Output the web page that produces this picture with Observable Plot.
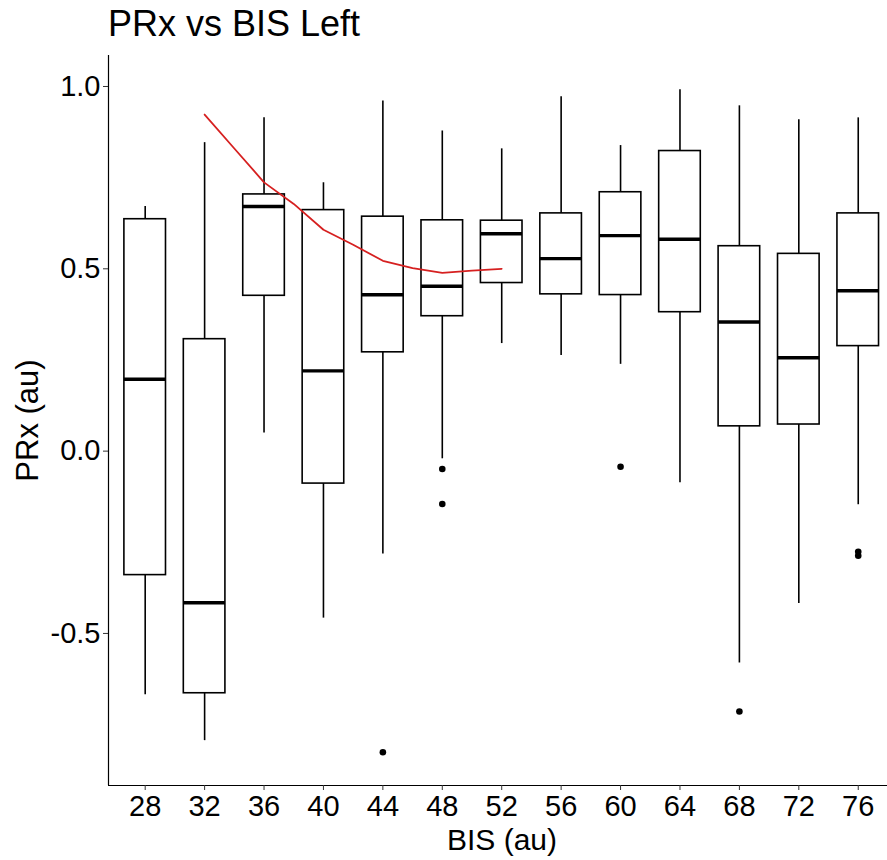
<!DOCTYPE html>
<html>
<head>
<meta charset="utf-8">
<script src="https://cdn.jsdelivr.net/npm/d3@7"></script>
<script src="https://cdn.jsdelivr.net/npm/@observablehq/plot@0.6"></script>
<style>
  html, body { margin: 0; padding: 0; background: #fff; }
  body { width: 887px; height: 860px; position: relative; overflow: hidden; font-family: "Liberation Sans", Arial, sans-serif; }
  #title { position: absolute; left: 108px; top: 6px; font-size: 36px; line-height: 1; color: #000; white-space: nowrap; }
  #chart { position: absolute; left: 0; top: 50px; }
</style>
</head>
<body>
<div id="title">PRx vs BIS Left</div>
<div id="chart"></div>
<script>
// BIS categories
const bis = [28, 32, 36, 40, 44, 48, 52, 56, 60, 64, 68, 72, 76];
// Box statistics (PRx, au)
const whiskerLow  = [-0.668, -0.794, 0.050, -0.458, -0.282, -0.021, 0.295, 0.262, 0.238, -0.087, -0.581, -0.418, -0.147];
const q1          = [-0.340, -0.664, 0.426, -0.089, 0.271, 0.370, 0.461, 0.430, 0.428, 0.381, 0.068, 0.073, 0.288];
const median      = [0.197, -0.416, 0.671, 0.220, 0.429, 0.452, 0.596, 0.528, 0.591, 0.581, 0.354, 0.256, 0.440];
const q3          = [0.636, 0.307, 0.704, 0.661, 0.643, 0.633, 0.632, 0.652, 0.710, 0.823, 0.562, 0.541, 0.652];
const whiskerHigh = [0.671, 0.846, 0.914, 0.736, 0.960, 0.878, 0.829, 0.972, 0.838, 0.991, 0.947, 0.909, 0.914];
// Outliers
const outlierBis = [44, 48, 48, 60, 68, 76, 76];
const outlierPrx = [-0.826, -0.049, -0.145, -0.043, -0.714, -0.276, -0.287];
// Smoothed trend (red)
const trendBis = [32, 34, 36, 38, 40, 42, 44, 46, 48, 50, 52];
const trendPrx = [0.923, 0.830, 0.737, 0.678, 0.607, 0.566, 0.522, 0.502, 0.489, 0.495, 0.500];
// Tick labels
const yTicks = [-0.5, 0, 0.5, 1.0];

const xDomain = [25.53, 77.97];
const yDomain = [-0.917, 1.085];
const boxHalf = 1.4;

const boxes = bis.map((b, i) => ({bis: b, lo: whiskerLow[i], q1: q1[i], med: median[i], q3: q3[i], hi: whiskerHigh[i]}));
const outliers = outlierBis.map((b, i) => ({bis: b, prx: outlierPrx[i]}));
const trend = trendBis.map((b, i) => ({bis: b, prx: trendPrx[i]}));

const FONT = "'Liberation Sans', Arial, sans-serif";

const chart = Plot.plot({
  width: 887,
  height: 810,
  marginLeft: 108,
  marginRight: 0,
  marginTop: 5,
  marginBottom: 75,
  style: {fontFamily: FONT, background: "#fff", color: "#000", overflow: "visible"},
  x: {type: "linear", domain: xDomain},
  y: {type: "linear", domain: yDomain},
  marks: [
    Plot.ruleX(boxes, {x: "bis", y1: "lo", y2: "q1", stroke: "#000", strokeWidth: 1.6}),
    Plot.ruleX(boxes, {x: "bis", y1: "q3", y2: "hi", stroke: "#000", strokeWidth: 1.6}),
    Plot.rect(boxes, {x1: d => d.bis - boxHalf, x2: d => d.bis + boxHalf, y1: "q1", y2: "q3", fill: "#fff", stroke: "#000", strokeWidth: 1.6}),
    Plot.ruleY(boxes, {y: "med", x1: d => d.bis - boxHalf, x2: d => d.bis + boxHalf, stroke: "#000", strokeWidth: 3.4}),
    Plot.dot(outliers, {x: "bis", y: "prx", r: 3.3, fill: "#000", stroke: "none"}),
    Plot.line(trend, {x: "bis", y: "prx", stroke: "#d62020", strokeWidth: 1.8}),
    Plot.ruleX([xDomain[0]], {stroke: "#000", strokeWidth: 1.2}),
    Plot.ruleY([yDomain[0]], {stroke: "#000", strokeWidth: 1.2}),
    Plot.axisX({ticks: bis, tickFormat: d => String(d), tickSize: 5, tickPadding: 5, fontSize: 29, label: null, stroke: "#333"}),
    Plot.axisY({ticks: yTicks, tickFormat: d => d.toFixed(1), tickSize: 5, tickPadding: 3, fontSize: 29, label: null, stroke: "#333"}),
    Plot.text(["BIS (au)"], {text: d => d, frameAnchor: "bottom", dx: 4, dy: 64, fontSize: 30, fill: "#000"}),
    Plot.text(["PRx (au)"], {text: d => d, frameAnchor: "left", textAnchor: "middle", dx: -80, rotate: -90, fontSize: 31, fill: "#000"})
  ]
});
document.getElementById("chart").appendChild(chart);
</script>
</body>
</html>
